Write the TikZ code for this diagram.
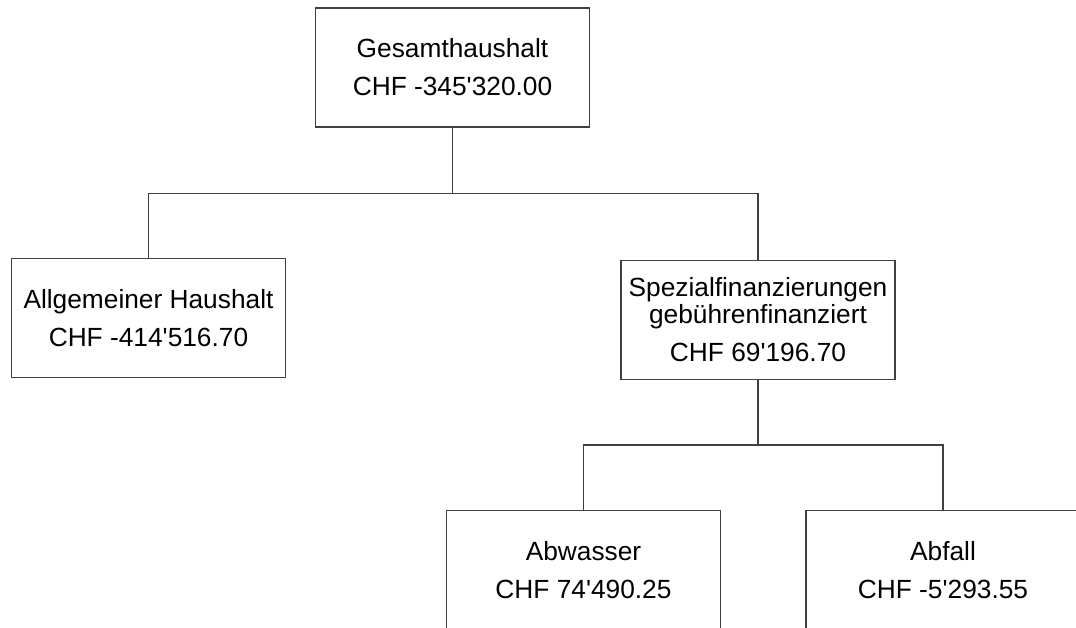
\documentclass[tikz,border=0pt]{standalone}
\usepackage{fontspec}
\newfontfamily\boxfont{Liberation Sans}
\begin{document}
\begin{tikzpicture} [x=1pt, y=-1pt,
  box/.style={draw=black!75, line width=1.3pt, minimum width=274pt, minimum height=119pt,
    inner sep=0pt, align=center, font=\boxfont\fontsize{26.3}{27}\selectfont},
  link/.style={draw=black!75, line width=1.3pt}]
  \useasboundingbox (0,0) rectangle (1076,627);
  \clip (0,0) rectangle (1076,627);
  \path  (452.5,67.5)  node[box](G)  {Gesamthaushalt\\[11pt]CHF -345'320.00}
         (148.5,318)   node[box](AH) {Allgemeiner Haushalt\\[11pt]CHF -414'516.70}
         (758,320)     node[box](SF) {Spezialfinanzierungen\\gebührenfinanziert\\[11pt]CHF 69'196.70}
         (583.5,570)   node[box](AW) {Abwasser\\[11pt]CHF 74'490.25}
         (943,570)     node[box](AF) {Abfall\\[11pt]CHF -5'293.55};
  \coordinate (J1) at (452.5,193.5);
  \coordinate (J2) at (758,445);
    \draw [link] (G) -- (J1) -| (AH);
    \draw [link] (J1) -| (SF);
    \draw [link] (SF) -- (J2) -| (AW);
    \draw [link] (J2) -| (AF);
\end{tikzpicture}
\end{document}
